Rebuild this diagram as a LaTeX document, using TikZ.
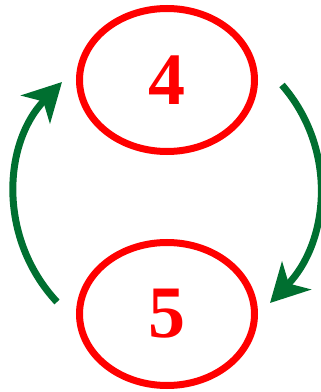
\documentclass[tikz,border=0pt]{standalone}
\usepackage{fontspec}
\setmainfont{Liberation Serif}
\usetikzlibrary{shapes.geometric,arrows.meta}
\definecolor{arrowgreen}{HTML}{006F30}
\definecolor{ovalred}{HTML}{FF0000}
\begin{document}
\begin{tikzpicture}[x=1pt,y=1pt,
  oval/.style={ellipse,draw=ovalred,line width=7pt,minimum width=175pt,minimum height=143pt,inner sep=0pt,text=ovalred,font=\fontsize{74}{74}\selectfont\bfseries},
  cyc/.style={draw=arrowgreen,line width=7pt,-{Stealth[length=38pt,width=40pt,inset=11pt]}}]
\useasboundingbox (0,0) rectangle (321,392);
\node[oval] (top) at (167,312) {4};
\node[oval] (bot) at (167,78) {5};
\coordinate (ls) at (57,90);
\coordinate (le) at (62,310);
\coordinate (rs) at (282,307);
\coordinate (re) at (270,89);
\draw[cyc] (ls) to[out=133,in=226] (le);
\draw[cyc] (rs) to[out=-49,in=46] (re);
\end{tikzpicture}
\end{document}
